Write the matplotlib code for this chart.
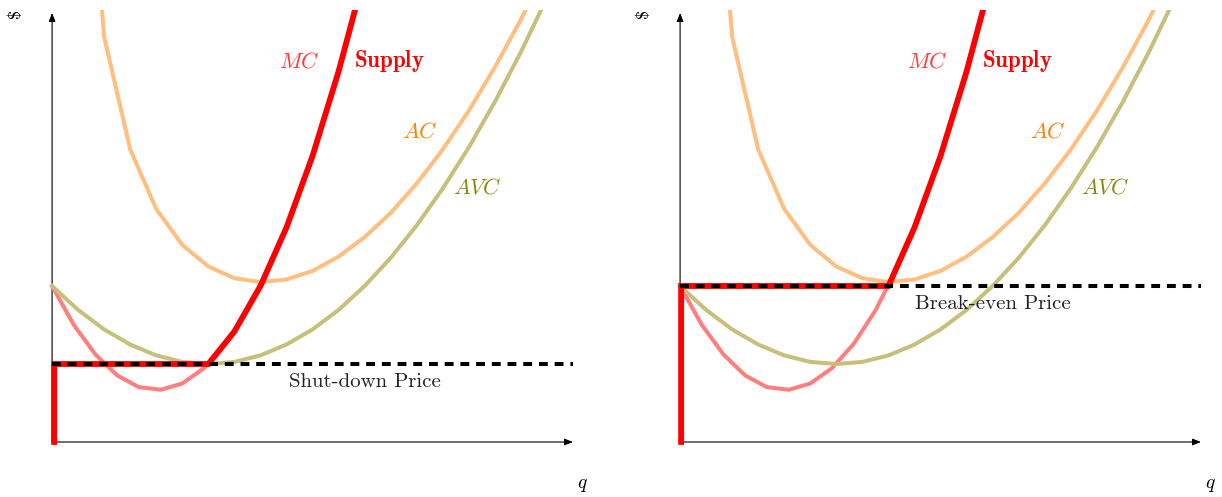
import matplotlib
matplotlib.use('Agg')
from matplotlib import pyplot as plt

plt.rcParams['mathtext.fontset'] = 'cm'

# values (q in units of output, price in $)
q_avc = [0, 1, 2, 3, 4, 5, 6, 7, 8, 9, 10, 11, 12, 13, 14, 15, 16, 17, 18, 19, 20]
avc = [6.0, 5.08, 4.33, 3.75, 3.33, 3.08, 3.0, 3.08, 3.33, 3.75, 4.33,
       5.08, 6.0, 7.08, 8.33, 9.75, 11.33, 13.08, 15.0, 17.08, 19.33]

q_ac = [1, 2, 3, 4, 5, 6, 7, 8, 9, 10, 11, 12, 13, 14, 15, 16, 17, 18, 19, 20]
ac = [27.58, 15.58, 11.25, 8.96, 7.58, 6.75, 6.30, 6.15, 6.25, 6.58,
      7.13, 7.88, 8.81, 9.94, 11.25, 12.74, 14.41, 16.25, 18.27, 20.46]

q_mc = [0, 0.83, 1.67, 2.5, 3.33, 4.17, 5.0, 5.83, 6.67, 7.5, 8.33, 9.17, 10.0, 10.83, 11.67, 12.5]
mc = [6.0, 4.51, 3.36, 2.56, 2.11, 2.01, 2.25, 2.84, 3.78, 5.06, 6.69, 8.67, 11.0, 13.67, 16.69, 20.06]

shutdown_price = 3.0
shutdown_q = [0.08, 0.08, 6, 7, 8, 9, 10, 11, 12]
shutdown_p = [0, 3.0, 3.0, 4.25, 6.0, 8.25, 11.0, 14.25, 18.0]

breakeven_price = 6.0
breakeven_q = [0.04, 0.04, 8, 9, 10, 11, 12]
breakeven_p = [0, 6.0, 6.0, 8.25, 11.0, 14.25, 18.0]

colors = {'mc': '#FF7F7F', 'ac': '#FFBF80', 'avc': '#C7C07C', 'supply': '#FF0000'}


def draw_panel(ax, supply_q, supply_p, price, price_label, label_y):
    ax.set_xlim(-2, 20.9)
    ax.set_ylim(-2, 16.6)
    ax.axis('off')

    # axes with arrows
    arrow = dict(arrowstyle='-|>,head_length=0.5,head_width=0.2', color='black', lw=0.8,
                 shrinkA=0, shrinkB=0)
    ax.annotate('', xy=(20, 0), xytext=(0, 0), arrowprops=arrow, zorder=1)
    ax.annotate('', xy=(0, 16.5), xytext=(0, 0), arrowprops=arrow, zorder=1)

    # cost curves
    ax.plot(q_mc, mc, color=colors['mc'], lw=2.9, solid_joinstyle='miter', zorder=2)
    ax.plot(q_ac, ac, color=colors['ac'], lw=2.9, solid_joinstyle='miter', zorder=2)
    ax.plot(q_avc, avc, color=colors['avc'], lw=2.9, solid_joinstyle='miter', zorder=2)
    ax.plot(supply_q, supply_p, color=colors['supply'], lw=4.2, solid_joinstyle='miter', zorder=3)
    ax.plot([0, 20], [price, price], color='black', lw=2.9, dashes=(2.2, 1.7), zorder=4)

    ax.text(20.38, -1.62, '$q$', fontsize=14, ha='center', va='center')
    ax.text(-1.42, 16.48, '$', family='cmr10', fontsize=13, rotation=90, ha='center', va='center')

    # labels
    ax.text(9.5, 14.62, '$MC$', color='#FF3A3A', fontsize=16, ha='center', va='center')
    ax.text(12.95, 14.65, r'$\mathbf{Supply}$', color='#FF0000', fontsize=16.5, ha='center', va='center')
    ax.text(14.13, 11.96, '$AC$', color='#FF8000', fontsize=16, ha='center', va='center')
    ax.text(16.33, 9.77, '$AVC$', color='#8A8A10', fontsize=16, ha='center', va='center')
    ax.text(12.0, label_y, price_label, family='cmr10', fontsize=15, color='#222222',
            ha='center', va='center')


fig = plt.figure(figsize=(12.22, 4.97), dpi=100)
ax1 = fig.add_axes([0.0, 0.00604, 596.4 / 1222, 0.9730])
ax2 = fig.add_axes([628 / 1222, 0.00604, 596.4 / 1222, 0.9730])

draw_panel(ax1, shutdown_q, shutdown_p, shutdown_price, 'Shut-down Price', 2.31)
draw_panel(ax2, breakeven_q, breakeven_p, breakeven_price, 'Break-even Price', 5.31)

fig.savefig('out.png', dpi=100)
